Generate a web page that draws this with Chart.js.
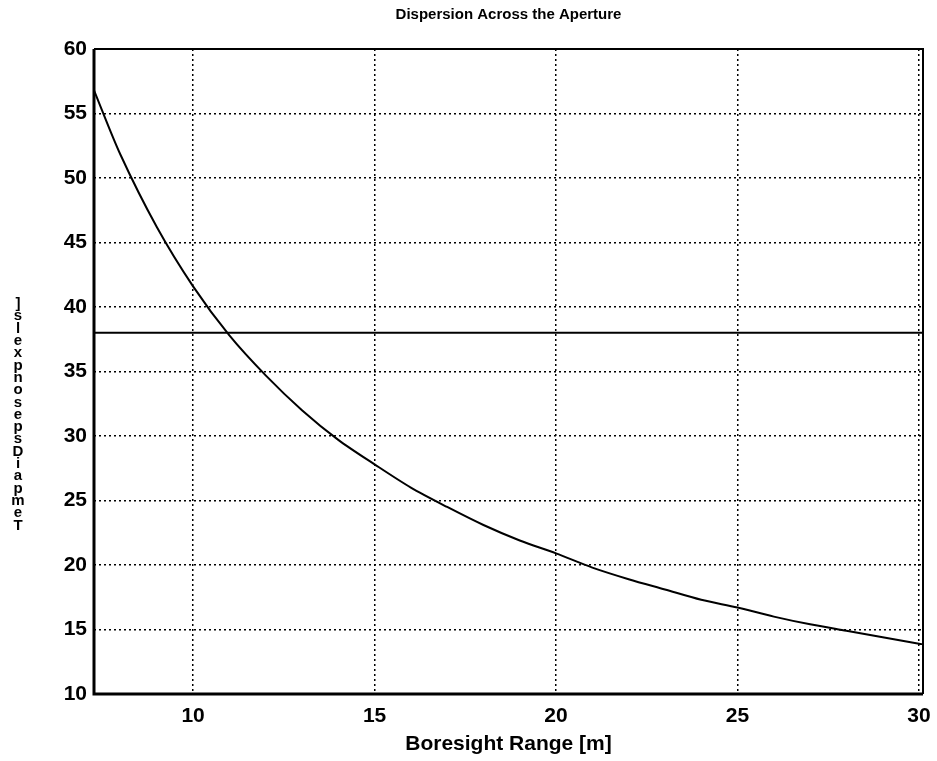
<!DOCTYPE html>
<html>
<head>
<meta charset="utf-8">
<script src="https://cdn.jsdelivr.net/npm/chart.js@4/dist/chart.umd.min.js"></script>
<style>
  html, body { margin: 0; padding: 0; background: #fff; }
  #wrap { width: 937px; height: 761px; }
</style>
</head>
<body>
<div id="wrap"><canvas id="dispChart" width="937" height="761"></canvas></div>
<script>
// Boresight range [m] and dispersion diameter
const range = [7.27, 8, 9, 10, 11, 12, 13, 14, 15, 16, 17, 18, 19, 20, 21, 22, 23, 24, 25, 26, 27, 28, 29, 30, 30.11];
const dispersion = [56.8, 51.8, 46.2, 41.6, 37.8, 34.7, 32.0, 29.7, 27.8, 26.0, 24.5, 23.1, 21.9, 20.9, 19.8, 18.9, 18.1, 17.3, 16.7, 16.0, 15.4, 14.9, 14.4, 13.9, 13.85];
// Aperture level (horizontal reference line)
const apertureX = [7.27, 30.11];
const apertureY = [38, 38];
const xTicks = [10, 15, 20, 25, 30];
const yTicks = [10, 15, 20, 25, 30, 35, 40, 45, 50, 55, 60];

const titleText = 'Dispersion Across the Aperture';
const xLabel = 'Boresight Range [m]';
// vertical label, glyphs stacked upright top to bottom
const yLabelGlyphs = [']', 's', 'l', 'e', 'x', 'p', 'n', 'o', 's', 'e', 'p', 's', 'D', 'i', 'a', 'p', 'm', 'e', 'T'];

const FONT = 'Arial, "Liberation Sans", Helvetica, sans-serif';

// frame, title and stacked y label
const decor = {
    id: 'decor',
    afterDraw(chart) {
        const ctx = chart.ctx;
        const a = chart.chartArea;
        ctx.save();
        ctx.strokeStyle = '#000';
        ctx.lineWidth = 2;
        ctx.beginPath();
        ctx.moveTo(a.left, a.top);
        ctx.lineTo(a.right, a.top);
        ctx.lineTo(a.right, a.bottom);
        ctx.stroke();
        ctx.lineWidth = 3;
        ctx.beginPath();
        ctx.moveTo(a.left, a.top);
        ctx.lineTo(a.left, a.bottom);
        ctx.lineTo(a.right, a.bottom);
        ctx.stroke();

        ctx.fillStyle = '#000';
        ctx.font = 'bold 15px ' + FONT;
        ctx.textAlign = 'center';
        ctx.textBaseline = 'middle';
        ctx.fillText(titleText, (a.left + a.right) / 2, 15);

        ctx.font = 'bold 15px ' + FONT;
        const top = 304, step = 12.3;
        yLabelGlyphs.forEach((g, i) => ctx.fillText(g, 18, top + i * step));
        ctx.restore();
    }
};

const data = {
    datasets: [{
        label: 'Dispersion',
        data: range.map((x, i) => ({ x: x, y: dispersion[i] })),
        borderColor: '#000',
        borderWidth: 2,
        pointRadius: 0,
        tension: 0.3,
        fill: false
    }, {
        label: 'Aperture',
        data: apertureX.map((x, i) => ({ x: x, y: apertureY[i] })),
        borderColor: '#000',
        borderWidth: 2,
        pointRadius: 0,
        fill: false
    }]
};

const config = {
    type: 'line',
    data: data,
    options: {
        responsive: false,
        animation: false,
        layout: { padding: { top: 49, right: 14, left: 0, bottom: 0 } },
        plugins: {
            legend: { display: false },
            tooltip: { enabled: false }
        },
        scales: {
            x: {
                type: 'linear',
                min: apertureX[0],
                max: apertureX[1],
                afterBuildTicks: s => { s.ticks = xTicks.map(v => ({ value: v })); },
                afterFit: s => { s.height = 67; s.paddingRight = 0; s.paddingLeft = 0; },
                grid: { color: '#000', lineWidth: 1.5, drawTicks: false },
                border: { display: false, dash: [2, 3] },
                ticks: {
                    color: '#000',
                    padding: 10,
                    font: { family: FONT, size: 21, weight: 'bold' }
                },
                title: {
                    display: true,
                    text: xLabel,
                    color: '#000',
                    padding: { top: 2, bottom: 4 },
                    font: { family: FONT, size: 21, weight: 'bold' }
                }
            },
            y: {
                min: yTicks[0],
                max: yTicks[yTicks.length - 1],
                afterBuildTicks: s => { s.ticks = yTicks.map(v => ({ value: v })); },
                afterFit: s => { s.width = 94; s.paddingTop = 0; s.paddingBottom = 0; },
                grid: { color: '#000', lineWidth: 1.5, drawTicks: false },
                border: { display: false, dash: [2, 3] },
                ticks: {
                    color: '#000',
                    padding: 7,
                    font: { family: FONT, size: 21, weight: 'bold' }
                }
            }
        }
    },
    plugins: [decor]
};

const dispChart = new Chart(document.getElementById('dispChart'), config);
</script>
</body>
</html>
